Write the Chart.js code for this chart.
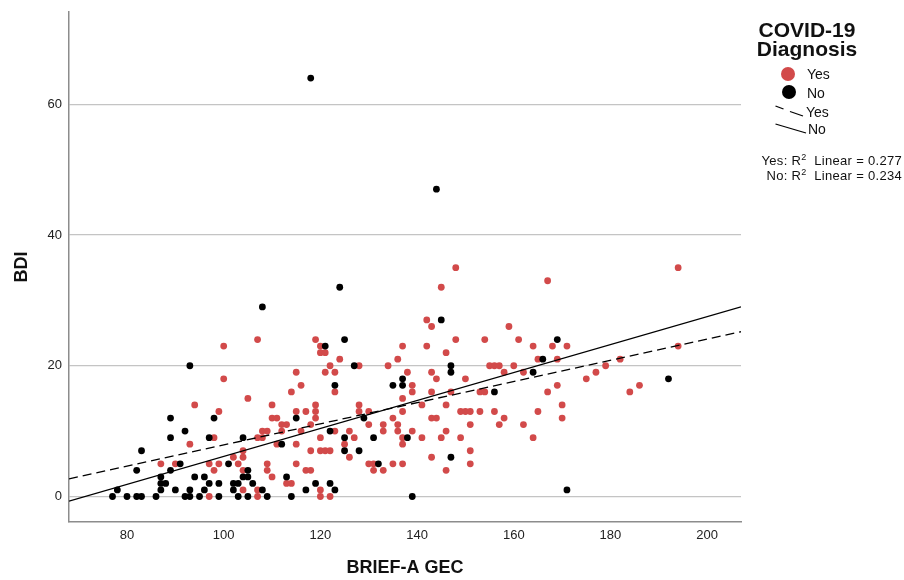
<!DOCTYPE html>
<html>
<head>
<meta charset="utf-8">
<script src="https://cdn.jsdelivr.net/npm/chart.js@4.4.1/dist/chart.umd.min.js"></script>
<style>
  html, body { margin: 0; padding: 0; background: #fff; }
  #wrap { position: relative; width: 904px; height: 580px; font-family: "Liberation Sans", Arial, sans-serif; color: #111; }
  #wrap .abs { position: absolute; white-space: nowrap; }
  .ttl { font-size: 21px; font-weight: bold; line-height: 20px; text-align: center; width: 200px; }
  .item { font-size: 14px; line-height: 16px; }
  .dot { width: 14px; height: 14px; border-radius: 50%; }
  .r2 { font-size: 13px; line-height: 15px; right: 2px; text-align: right; letter-spacing: 0.3px; }
</style>
</head>
<body>
<div id="wrap">
  <canvas id="scatterChart" width="904" height="580"></canvas>

  <!-- legend, drawn in HTML so that it can be stacked like the original -->
  <div class="abs ttl" style="left:707px; top:20px;">COVID-19</div>
  <div class="abs ttl" style="left:707px; top:39px;">Diagnosis</div>
  <div class="abs dot" style="left:781px; top:67px; background:#d24a4a;"></div>
  <div class="abs item" style="left:807px; top:66px;">Yes</div>
  <div class="abs dot" style="left:782px; top:85px; background:#000;"></div>
  <div class="abs item" style="left:807px; top:85px;">No</div>
  <svg class="abs" style="left:770px; top:100px;" width="40" height="40">
    <line x1="5.5" y1="6" x2="13.5" y2="9" stroke="#000" stroke-width="1.3"/>
    <line x1="20" y1="11.5" x2="33" y2="16" stroke="#000" stroke-width="1.3"/>
    <line x1="5.5" y1="24" x2="36" y2="33" stroke="#000" stroke-width="1.3"/>
  </svg>
  <div class="abs item" style="left:806px; top:104px;">Yes</div>
  <div class="abs item" style="left:808px; top:121px;">No</div>
  <div class="abs r2" style="top:150px;">Yes: R<sup style="font-size:9px">2</sup>&nbsp; Linear = 0.277</div>
  <div class="abs r2" style="top:165px;">No: R<sup style="font-size:9px">2</sup>&nbsp; Linear = 0.234</div>
</div>

<script>
// tick labels
const xTicks = [80, 100, 120, 140, 160, 180, 200];
const yTicks = [0, 20, 40, 60];

// COVID-19 diagnosis: Yes  [BRIEF-A GEC, BDI]
const yesPoints = [
    [107,24],[100,23],[100,18],[115,19],[116,17],[105,15],[94,14],[110,14],[99,13],[110,12],
    [111,12],[117,13],[112,11],[113,11],[112,10],[116,10],[98,9],[107,9],[108,9],[108,10],
    [109,10],[93,8],[111,8],[115,8],[104,7],[118,7],[87,5],[90,5],[97,5],[99,5],
    [103,5],[102,6],[104,6],[109,5],[115,5],[98,4],[104,4],[109,4],[117,4],[118,4],
    [110,3],[113,2],[114,2],[104,1],[107,1],[97,0],[107,0],[114,16],[115,13],
    [148,35],[145,32],[167,33],[142,27],[143,26],[159,26],[119,24],[148,24],[154,24],[161,24],
    [120,23],[137,23],[142,23],[164,23],[120,22],[121,22],[136,21],[146,22],[124,21],[165,21],
    [122,20],[128,20],[134,20],[155,20],[156,20],[157,20],[160,20],[121,19],[123,19],[138,19],
    [143,19],[158,19],[162,19],[144,18],[150,18],[139,17],[123,16],[139,16],[143,16],[147,16],
    [153,16],[154,16],[167,16],[137,15],[119,14],[128,14],[141,14],[146,14],[119,13],[128,13],
    [130,13],[137,13],[149,13],[150,13],[151,13],[153,13],[156,13],[165,13],[119,12],[135,12],
    [143,12],[144,12],[158,12],[118,11],[130,11],[133,11],[136,11],[151,11],[157,11],[162,11],
    [123,10],[126,10],[133,10],[136,10],[139,10],[146,10],[120,9],[127,9],[137,9],[141,9],
    [145,9],[149,9],[164,9],[125,8],[137,8],[120,7],[121,7],[122,7],[151,7],[126,6],
    [143,6],[130,5],[131,5],[135,5],[137,5],[151,5],[131,4],[133,4],[146,4],[120,1],
    [120,0],[122,0],
    [194,35],[168,23],[171,23],[194,23],[169,21],[182,21],[179,20],[177,19],[175,18],[169,17],
    [186,17],[184,16],[170,14],[170,12]
];

// COVID-19 diagnosis: No
const noPoints = [
    [108,29],[93,20],[89,12],[98,12],[115,12],[92,10],[89,9],[97,9],[104,9],[112,8],
    [83,7],[91,5],[101,5],[82,4],[89,4],[105,4],[87,3],[94,3],[96,3],[104,3],
    [105,3],[113,3],[87,2],[88,2],[97,2],[99,2],[102,2],[103,2],[106,2],[78,1],
    [87,1],[90,1],[93,1],[96,1],[102,1],[108,1],[117,1],[77,0],[80,0],[82,0],
    [83,0],[86,0],[92,0],[93,0],[95,0],[99,0],[103,0],[105,0],[109,0],[114,0],
    [124,32],[145,27],[125,24],[121,23],[166,21],[127,20],[147,20],[147,19],[164,19],[137,18],
    [123,17],[135,17],[137,17],[156,16],[129,12],[122,10],[125,9],[131,9],[138,9],[125,7],
    [128,7],[147,6],[132,5],[119,2],[122,2],[123,1],[139,0],
    [169,24],[192,18],[171,1],[118,64],[144,47]
];

// fit lines, read at the two ends of the x axis
const fitX = [68, 207];
const fitYes = [2.7, 25.2];
const fitNo = [-0.7, 29.0];

const RED = '#d24a4a';
const FONT = '"Liberation Sans", Arial, sans-serif';

function toXY(list) {
    return list.map(p => ({ x: p[0], y: p[1] }));
}

function lineXY(ys) {
    return fitX.map((x, i) => ({ x: x, y: ys[i] }));
}

const ctx = document.getElementById('scatterChart').getContext('2d');
const chart = new Chart(ctx, {
    type: 'scatter',
    data: {
        datasets: [
            {
                label: 'Yes fit',
                data: lineXY(fitYes),
                showLine: true,
                borderColor: '#000',
                borderWidth: 1.3,
                borderDash: [9, 5],
                pointRadius: 0,
                order: 0
            },
            {
                label: 'No fit',
                data: lineXY(fitNo),
                showLine: true,
                borderColor: '#000',
                borderWidth: 1.3,
                pointRadius: 0,
                order: 1
            },
            {
                label: 'No',
                data: toXY(noPoints),
                backgroundColor: '#000',
                borderWidth: 0,
                pointRadius: 3.4,
                order: 2
            },
            {
                label: 'Yes',
                data: toXY(yesPoints),
                backgroundColor: RED,
                borderWidth: 0,
                pointRadius: 3.4,
                order: 3
            }
        ]
    },
    options: {
        responsive: false,
        animation: false,
        layout: { padding: { left: 0, right: 163, top: 12, bottom: 0 } },
        plugins: {
            legend: { display: false },
            tooltip: { enabled: false }
        },
        scales: {
            x: {
                type: 'linear',
                min: 68,
                max: 207,
                afterBuildTicks: s => { s.ticks = xTicks.map(v => ({ value: v })); },
                afterFit: s => { s.height = 58; },
                grid: { display: false, drawTicks: false },
                border: { display: true, color: '#8c8c8c', width: 1.5 },
                ticks: { padding: 6, color: '#222', font: { size: 13, family: FONT } },
                title: {
                    display: true,
                    text: 'BRIEF-A GEC',
                    color: '#111',
                    font: { size: 18, weight: 'bold', family: FONT },
                    padding: { top: 0, bottom: 1 }
                }
            },
            y: {
                type: 'linear',
                min: -3.9,
                max: 74.1,
                afterBuildTicks: s => { s.ticks = yTicks.map(v => ({ value: v })); },
                // keep the plot top where the original has it
                afterFit: s => { s.width = 69; s.paddingTop = 0; s.paddingBottom = 0; },
                grid: { color: '#c4c4c4', lineWidth: 1.3, drawTicks: false },
                border: { display: true, color: '#8c8c8c', width: 1.5 },
                ticks: { padding: 7, color: '#222', font: { size: 13, family: FONT } },
                title: {
                    display: true,
                    text: 'BDI',
                    color: '#111',
                    font: { size: 18, weight: 'bold', family: FONT },
                    padding: { top: 11, bottom: 0 }
                }
            }
        }
    }
});
</script>
</body>
</html>
